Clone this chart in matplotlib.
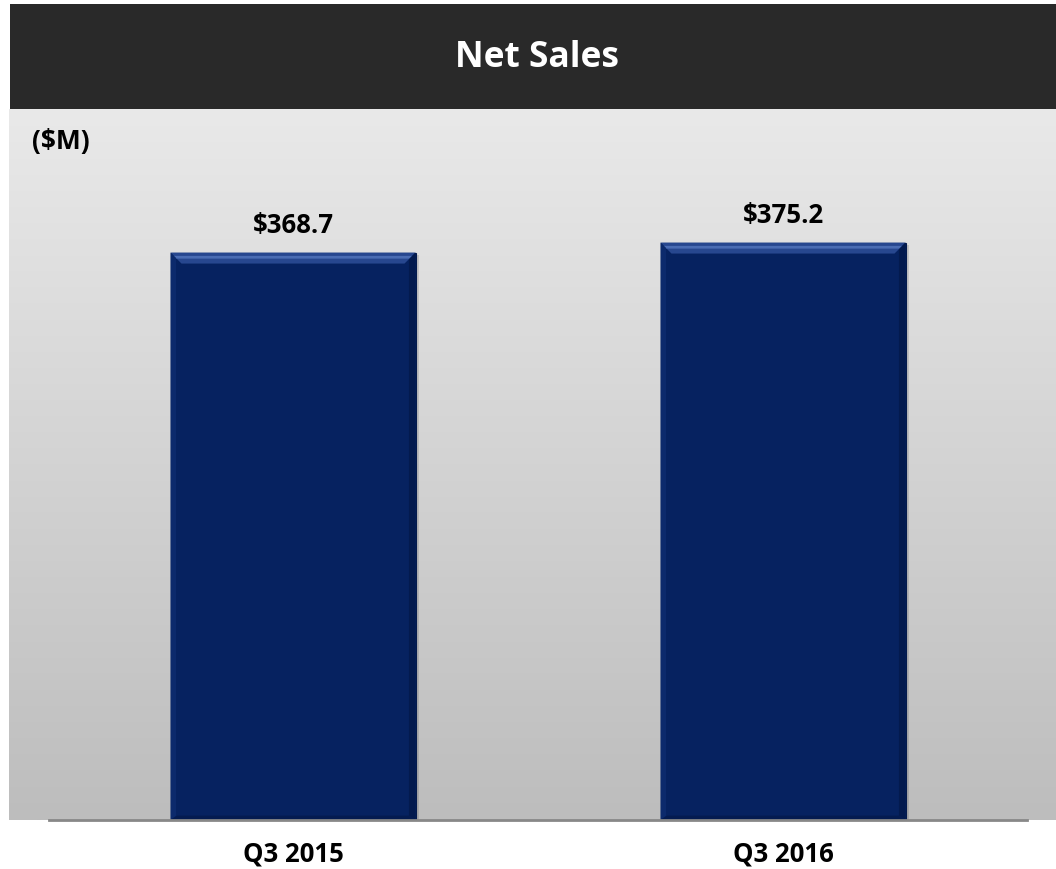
import matplotlib
matplotlib.use("Agg")
import matplotlib.pyplot as plt
from matplotlib.patches import Rectangle, Polygon
import numpy as np

# data
categories = ["Q3 2015", "Q3 2016"]
net_sales = [368.7, 375.2]
value_labels = ["$368.7", "$375.2"]
title = "Net Sales"
unit_label = "($M)"

plt.rcParams['font.family'] = ['Open Sans', 'DejaVu Sans']

W, H = 1056, 870
fig = plt.figure(figsize=(W / 100, H / 100), dpi=100)
fig.patch.set_facecolor("white")

def fx(px):
    return px / W

def fy(py):
    return 1 - py / H

# dark title bar
fig.patches.append(Rectangle((fx(10), fy(110)), fx(1056) - fx(10), fy(5) - fy(110),
                             transform=fig.transFigure, facecolor="#292929",
                             edgecolor="none", zorder=0))
fig.text(fx(537), fy(58), title, color="white", fontsize=25.5, fontweight="bold",
         ha="center", va="center")

# plot area
ax = fig.add_axes([fx(9), fy(821), fx(1056) - fx(9), fy(110) - fy(821)])
x = np.arange(len(categories))
ax.set_xlim(-(293 - 9) / 490, 1 + (1056 - 783) / 490)
ax.set_ylim(0, (821 - 110) / 1.539)

# gradient background
grad = np.linspace(0, 1, 256).reshape(-1, 1)
top_c = np.array([0xe9, 0xe9, 0xe9]) / 255
bot_c = np.array([0xbd, 0xbd, 0xbd]) / 255
img = top_c + (bot_c - top_c) * grad[..., None]
ax.imshow(img, aspect="auto", extent=[*ax.get_xlim(), ax.get_ylim()[0], ax.get_ylim()[1]],
          origin="upper", zorder=0)

bar_w = 0.5
bars = ax.bar(x, net_sales, width=bar_w, color="#062260", edgecolor="#041a4c",
              linewidth=0.8, zorder=3)

# bevel edges, sized in pixels
ppx = 490.0
ppy = 1.539
bx = 11 / ppx
by = 11 / ppy
for xi, v in zip(x, net_sales):
    l, r = xi - bar_w / 2, xi + bar_w / 2
    ax.add_patch(Polygon([(l, v), (r, v), (r - bx, v - by), (l + bx, v - by)],
                         closed=True, facecolor="#27478f", edgecolor="none", zorder=4))
    ax.add_patch(Polygon([(l + bx * 0.3, v - by * 0.3), (r - bx * 0.3, v - by * 0.3),
                          (r - bx * 0.55, v - by * 0.55), (l + bx * 0.55, v - by * 0.55)],
                         closed=True, facecolor="#4a6cb3", edgecolor="none", zorder=4))
    ax.add_patch(Polygon([(l, v), (l + bx * 0.5, v - by * 0.5), (l + bx * 0.5, by * 0.4), (l, 0)],
                         closed=True, facecolor="#0c2a6c", edgecolor="none", zorder=4))
    ax.add_patch(Polygon([(r, v), (r, 0), (r - bx * 0.6, by * 0.4), (r - bx * 0.6, v - by * 0.6)],
                         closed=True, facecolor="#031a4e", edgecolor="none", zorder=4))
    ax.add_patch(Polygon([(l, 0), (r, 0), (r - bx * 0.6, by * 0.4), (l + bx * 0.6, by * 0.4)],
                         closed=True, facecolor="#041b50", edgecolor="none", zorder=4))
    # shadow to the right
    ax.add_patch(Rectangle((r, 0), 3 / ppx, v - 2 / ppy, facecolor="#000000", alpha=0.12,
                           edgecolor="none", zorder=2))

for xi, v, lab in zip(x, net_sales, value_labels):
    ax.text(xi, v + 28 / ppy, lab, ha="center", va="center", fontsize=18.5,
            fontweight="bold", color="black", zorder=5)

# baseline
span = 1047.0
ax.axhline(0, xmin=(49 - 9) / span, xmax=(1027 - 9) / span, color="#888888",
           linewidth=2, zorder=5, clip_on=False)

ax.set_xticks(x)
ax.set_xticklabels(categories, fontsize=18.5, fontweight="bold")
ax.tick_params(axis="x", length=0, pad=14)
ax.set_yticks([])
for s in ax.spines.values():
    s.set_visible(False)

ax.text(-(293 - 32) / ppx, (821 - 141) / ppy, unit_label, ha="left", va="center",
        fontsize=19, fontweight="bold", zorder=5)

fig.savefig("out.png", dpi=100)
